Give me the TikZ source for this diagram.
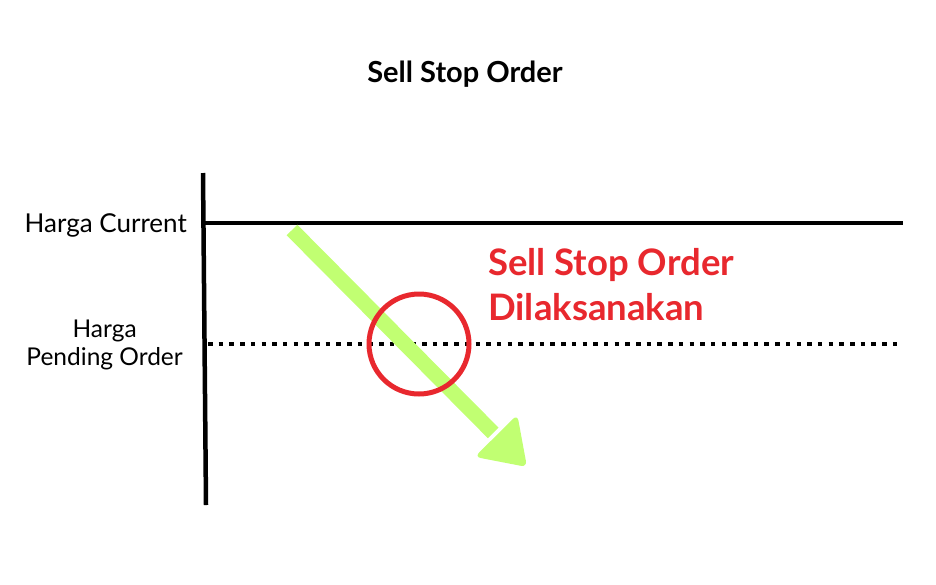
\documentclass[tikz,border=0pt]{standalone}
\usepackage{fontspec}
\setmainfont{Lato}
\usetikzlibrary{positioning,calc}
\definecolor{arrowgreen}{HTML}{C1FF72}
\definecolor{signalred}{HTML}{E8282E}
\tikzset{
	>=stealth
}

\begin{document}
\begin{tikzpicture}[
	x = 1pt, y = 1pt,
	every node/.style = {
		inner sep = 0pt
	},
	axis/.style = {
		line width = 4.5pt
	},
	pricelabel/.style = {
		font = \fontsize{26}{29}\selectfont,
		align = center
	},
	ring/.style = {
		circle,
		draw = signalred,
		line width = 5pt,
		minimum size = 100pt
	}
	]
	\useasboundingbox (0,0) rectangle (936,-584);

	\node[anchor = base, font = \bfseries\fontsize{29}{32}\selectfont] (title) at (465,-82) {Sell Stop Order};

	% sumbu dan garis harga
	\coordinate (axtop) at (203,-173);
	\coordinate (axbot) at (206,-505);
	\coordinate (curstart) at (205,-223);
	\coordinate (curend) at (903,-223);
	\coordinate (pendstart) at (208,-344);
	\coordinate (pendend) at (901,-344);

	\draw[axis] (axtop) -- (axbot);
	\draw[axis] (curstart) -- (curend);
	\draw[axis, dash pattern = on 4.5pt off 6.2pt] (pendstart) -- (pendend);

	\node[pricelabel, anchor = base east] (current) at (187,-232) {Harga Current};
	\node[pricelabel, font = \fontsize{24.5}{28.5}\selectfont, anchor = east] (pending) at (183,-345) {Harga\\Pending Order};

	% panah turun
	\coordinate (tail) at (292,-230);
	\coordinate (tip) at (527,-467);
	\coordinate (neck) at ($(tip)!44pt!(tail)$);
	\coordinate (headl) at ($(neck)!30pt!90:(tip)$);
	\coordinate (headr) at ($(neck)!30pt!-90:(tip)$);
	\draw[arrowgreen, line width = 15pt] (tail) -- ($(neck)!-4pt!(tip)$);
	\fill[arrowgreen, rounded corners = 6pt] (headl) -- (tip) -- (headr) -- cycle;

	\node[ring] (hit) at (419,-344) {};

	\node[anchor = north west, align = left, text = signalred,
		font = \bfseries\fontsize{36.5}{45}\selectfont] (executed) at (488,-248)
		{Sell Stop Order\\Dilaksanakan};
\end{tikzpicture}
\end{document}
